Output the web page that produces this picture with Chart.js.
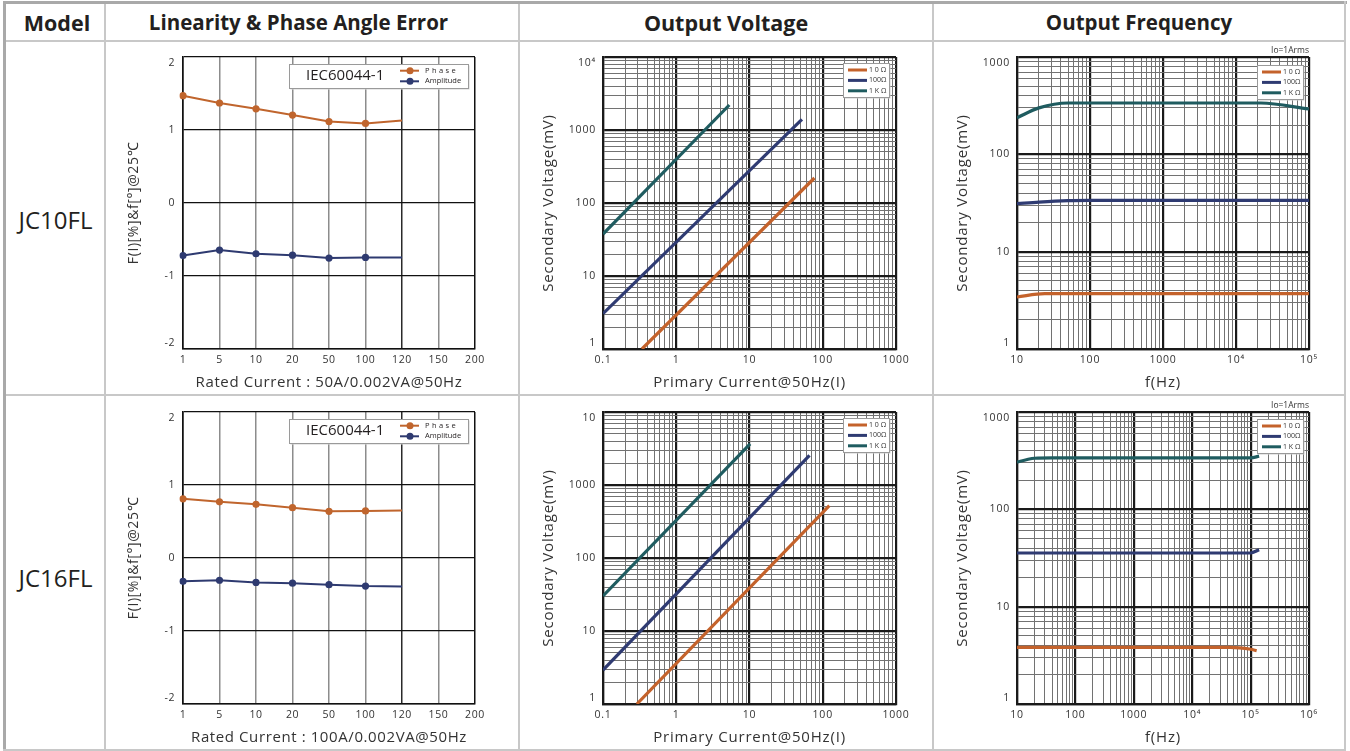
<!DOCTYPE html>
<html><head><meta charset="utf-8">
<script src="https://cdn.jsdelivr.net/npm/chart.js@4.4.1/dist/chart.umd.min.js"></script>
<style>
html,body{margin:0;padding:0;background:#fff;}
body{width:1350px;height:751px;position:relative;overflow:hidden;font-family:"Open Sans",sans-serif;}
.ln{position:absolute;background:#c8c8c8;}
.hdr{position:absolute;top:4px;height:37px;line-height:37px;font-weight:700;font-size:20.5px;color:#231f20;text-align:center;white-space:nowrap;}
.model{position:absolute;left:6px;width:99px;height:40px;line-height:40px;text-align:center;font-size:24px;color:#231f20;}
canvas{position:absolute;}
</style></head><body>
<div class="ln" style="left:3px;top:1px;width:1344px;height:3px;background:#a9a9a9"></div>
<div class="ln" style="left:3px;top:1px;width:3px;height:750px;background:#a9a9a9"></div>
<div class="ln" style="left:1344px;top:1px;width:2px;height:750px"></div>
<div class="ln" style="left:3px;top:749px;width:1343px;height:2px"></div>
<div class="ln" style="left:6px;top:40px;width:1338px;height:2px"></div>
<div class="ln" style="left:6px;top:394px;width:1338px;height:2px"></div>
<div class="ln" style="left:104px;top:4px;width:2px;height:746px"></div>
<div class="ln" style="left:518px;top:4px;width:2px;height:746px"></div>
<div class="ln" style="left:932px;top:4px;width:2px;height:746px"></div>

<div class="hdr" style="left:6px;width:102px;font-size:21.5px">Model</div>
<div class="hdr" style="left:105px;width:387px">Linearity &amp; Phase Angle Error</div>
<div class="hdr" style="left:519px;width:414px;font-size:21.5px">Output Voltage</div>
<div class="hdr" style="left:933px;width:412px">Output Frequency</div>
<div class="model" style="top:200px">JC10FL</div>
<div class="model" style="top:558px">JC16FL</div>

<canvas id="lin1"></canvas><canvas id="lin2"></canvas>
<canvas id="vol1"></canvas><canvas id="vol2"></canvas>
<canvas id="frq1"></canvas><canvas id="frq2"></canvas>

<script>
// ---------- DATA ----------
const linearityCurrents = ['1','5','10','20','50','100','120','150','200'];
const linYLabels = ['-2', '-1', '0', '1', '2'];
const jc10Phase = [1.47, 1.37, 1.29, 1.205, 1.115, 1.09, 1.13];
const jc10Amplitude = [-0.72, -0.645, -0.695, -0.715, -0.755, -0.745, -0.745];
const jc16Phase = [0.81, 0.77, 0.735, 0.69, 0.64, 0.645, 0.65];
const jc16Amplitude = [-0.32, -0.305, -0.335, -0.345, -0.365, -0.385, -0.39];

const loadLabels = ['1 0 Ω', '100Ω', '1 K Ω'];

// Output voltage: [primary current A, secondary voltage mV]
const jc10Volt10 = [[0.34, 1], [77, 220]];
const jc10Volt100 = [[0.1, 3.05], [52, 1400]];
const jc10Volt1k = [[0.1, 37.6], [5.3, 2200]];
const jc16Volt10 = [[0.29, 1], [123, 520]];
const jc16Volt100 = [[0.1, 2.92], [66, 2550]];
const jc16Volt1k = [[0.1, 30.2], [10.2, 3650]];

// Output frequency: [Hz, mV]
const jc10Freq10 = [[10, 3.42], [24, 3.7], [100, 3.7], [1e5, 3.7]];
const jc10Freq100 = [[10, 31.1], [20, 32.3], [50, 33.4], [100, 33.6], [1e5, 33.6]];
const jc10Freq1k = [[10, 238], [20, 300], [50, 337], [22000, 337], [1e5, 292]];
const jc16Freq10 = [[10, 3.82], [45000, 3.82], [1e5, 3.65], [1.27e5, 3.53]];
const jc16Freq100 = [[10, 35.6], [1e5, 35.6], [1.4e5, 38.5]];
const jc16Freq1k = [[10, 305], [15, 325], [20, 335], [40, 338], [1e5, 338], [1.4e5, 352]];

// tick labels (one per decade)
const voltXLabels = ['0.1', '1', '10', '100', '1000'];
const voltYLabelsTop = ['1', '10', '100', '1000', '10⁴'];
const voltYLabelsBottom = ['1', '10', '100', '1000', '10'];
const freqXLabelsTop = ['10', '100', '1000', '10⁴', '10⁵'];
const freqXLabelsBottom = ['10', '100', '1000', '10⁴', '10⁵', '10⁶'];
const freqYLabels = ['1', '10', '100', '1000'];

// ---------- STYLE ----------
const phaseColor = '#c0652d', ampColor = '#2e3a70';
const loadColors = ['#c4622b', '#2f3b72', '#1f5c60'];
Chart.defaults.font.family = '"Open Sans", sans-serif';
Chart.defaults.color = '#333';
const TICK_FONT = { size: 10.5 };

const PAD_T = 28, PAD_R = 26;
function place(c, a, wy, hx) {
  const left = a.L - wy, top = a.T - PAD_T;
  c.width = a.R + PAD_R - left; c.height = a.B + hx - top;
  c.style.left = left + 'px'; c.style.top = top + 'px';
}
// keep the end labels of a vertical axis inside the plot (shift half a line)
function yEdge(label, isTop, isBottom) {
  if (isTop) return ['', label];
  if (isBottom) return [label, ''];
  return label;
}

const spacing = { id: 'spacing', beforeDraw(chart, args, o) { chart.ctx.letterSpacing = (o && o.ls) || '0px'; } };

const boxLegend = {
  id: 'boxLegend',
  afterDraw(chart, args, o) {
    if (!o || !o.kind) return;
    const ctx = chart.ctx, a = chart.chartArea;
    ctx.save();
    ctx.letterSpacing = '0px';
    ctx.textBaseline = 'middle'; ctx.textAlign = 'left';
    if (o.kind === 'lin') {
      const x = a.left + 106, y = a.top + 7, w = 179, h = 24;
      ctx.fillStyle = '#d4d4d4'; ctx.fillRect(x + 1.5, y + 1.5, w, h);
      ctx.fillStyle = '#fff'; ctx.fillRect(x, y, w, h);
      ctx.strokeStyle = '#9a9a9a'; ctx.lineWidth = 1; ctx.strokeRect(x + 0.5, y + 0.5, w, h);
      ctx.fillStyle = '#231f20'; ctx.font = '15px "Open Sans"';
      ctx.fillText(o.title, a.left + 123, a.top + 19);
      chart.data.datasets.forEach((ds, i) => {
        const yy = a.top + 13.7 + i * 10.6;
        ctx.strokeStyle = ds.borderColor; ctx.lineWidth = 2;
        ctx.beginPath(); ctx.moveTo(a.left + 217, yy); ctx.lineTo(a.left + 236, yy); ctx.stroke();
        ctx.fillStyle = ds.borderColor; ctx.beginPath(); ctx.arc(a.left + 227, yy, 3.5, 0, Math.PI * 2); ctx.fill();
        ctx.fillStyle = '#231f20'; ctx.font = '7.5px "Open Sans"';
        ctx.letterSpacing = i === 0 ? '2.4px' : '0px';
        ctx.fillText(ds.label, a.left + 242, yy);
      });
    } else {
      const x = a.left + 240, y = a.top + o.dy, w = 46, h = 34;
      ctx.fillStyle = '#d0d0d0'; ctx.fillRect(x + 1.5, y + 1.5, w, h);
      ctx.fillStyle = '#fff'; ctx.fillRect(x, y, w, h);
      ctx.strokeStyle = '#9a9a9a'; ctx.lineWidth = 1; ctx.strokeRect(x + 0.5, y + 0.5, w, h);
      chart.data.datasets.forEach((ds, i) => {
        const yy = y + 7 + i * 10.4;
        ctx.strokeStyle = ds.borderColor; ctx.lineWidth = 3;
        ctx.beginPath(); ctx.moveTo(a.left + 245, yy); ctx.lineTo(a.left + 264, yy); ctx.stroke();
        ctx.fillStyle = '#333'; ctx.font = '7px "Open Sans"';
        ctx.fillText(ds.label, a.left + 266, yy);
      });
    }
    if (o.note) {
      ctx.letterSpacing = '0px';
      ctx.fillStyle = '#333'; ctx.font = '8.5px "Open Sans"'; ctx.textAlign = 'right';
      ctx.fillText(o.note, a.right, a.top - 6.5);
    }
    ctx.restore();
  }
};

const common = (legendOpts, ls) => ({
  responsive: false, animation: false, events: [],
  layout: { padding: { top: PAD_T, right: PAD_R, left: 0, bottom: 0 }, autoPadding: false },
  plugins: { legend: { display: false }, tooltip: { enabled: false }, boxLegend: legendOpts, spacing: { ls } }
});

function linChart(id, area, phase, amp, xTitle) {
  const c = document.getElementById(id);
  place(c, area, 76, 43);
  new Chart(c, {
    type: 'line',
    plugins: [spacing, boxLegend],
    data: {
      labels: linearityCurrents,
      datasets: [
        { label: 'Phase', data: phase, borderColor: phaseColor, backgroundColor: phaseColor, borderWidth: 2,
          pointRadius: (ctx) => ctx.dataIndex < 6 ? 3.6 : 0, pointBorderWidth: 0, pointHoverRadius: 0, tension: 0 },
        { label: 'Amplitude', data: amp, borderColor: ampColor, backgroundColor: ampColor, borderWidth: 2,
          pointRadius: (ctx) => ctx.dataIndex < 6 ? 3.6 : 0, pointBorderWidth: 0, pointHoverRadius: 0, tension: 0 }
      ]
    },
    options: Object.assign(common({ kind: 'lin', title: 'IEC60044-1' }, '0.6px'), {
      scales: {
        x: {
          type: 'category', offset: false,
          afterFit: (s) => { s.height = 43; },
          grid: { drawTicks: false, lineWidth: 1.5,
            color: (ctx) => (ctx.index === 0 || ctx.index === 8) ? '#111' : (ctx.index === 6 ? '#2a2a2a' : '#8c8c8c') },
          border: { color: '#111', width: 1.5 },
          ticks: { padding: 5, font: TICK_FONT, color: '#333', autoSkip: false, maxRotation: 0 },
          title: { display: true, text: xTitle, font: { size: 15 }, color: '#333', padding: { top: 0, bottom: 0 } }
        },
        y: {
          min: -2, max: 2,
          afterFit: (s) => { s.width = 76; },
          grid: { drawTicks: false, lineWidth: 1.3, color: '#111' },
          border: { color: '#111', width: 1.5 },
          ticks: { stepSize: 1, padding: 8, font: TICK_FONT, color: '#333',
            callback: (v) => yEdge(linYLabels[Math.round(v) + 2], v === 2, v === -2) },
          title: { display: true, text: 'F(I)[%]&f[°]@25℃', font: { size: 14 }, color: '#333', padding: { top: 19, bottom: 0 } }
        }
      }
    })
  });
}

const isMajor = (v) => Math.abs(Math.log10(v) - Math.round(Math.log10(v))) < 1e-9;
function logTicks(min, max) {
  const t = [];
  for (let e = Math.round(Math.log10(min)); e < Math.round(Math.log10(max)); e++)
    for (let k = 1; k < 10; k++) t.push({ value: k * Math.pow(10, e) });
  t.push({ value: max });
  return t;
}
function logAxis(axis, min, max, labels, title, size) {
  return {
    type: 'logarithmic', min, max,
    afterBuildTicks: (s) => { s.ticks = logTicks(min, max); },
    afterFit: (s) => { if (axis === 'x') s.height = size; else s.width = size; },
    grid: { drawTicks: false,
      color: (ctx) => ctx.tick && isMajor(ctx.tick.value) ? '#1a1a1a' : '#727272',
      lineWidth: (ctx) => ctx.tick && isMajor(ctx.tick.value) ? 2.2 : 1 },
    border: { color: '#1a1a1a', width: 2.2 },
    ticks: {
      autoSkip: false, maxRotation: 0, minRotation: 0, padding: axis === 'x' ? 5 : 7, font: TICK_FONT, color: '#333',
      callback: (v, i, ticks) => {
        const val = ticks[i].value;
        if (!isMajor(val)) return '';
        const lab = labels[Math.round(Math.log10(val) - Math.log10(min))];
        return axis === 'y' ? yEdge(lab, i === ticks.length - 1, i === 0) : lab;
      }
    },
    title: { display: true, text: title, font: { size: 15 }, color: '#333',
      padding: axis === 'x' ? { top: 0, bottom: 0 } : { top: 19, bottom: 0 } }
  };
}
function logChart(id, area, s) {
  const c = document.getElementById(id);
  place(c, area, 82, 43);
  new Chart(c, {
    type: 'line',
    plugins: [spacing, boxLegend],
    data: {
      datasets: s.series.map((arr, i) => ({
        label: loadLabels[i], data: arr.map(p => ({ x: p[0], y: p[1] })),
        borderColor: loadColors[i], backgroundColor: loadColors[i], borderWidth: 3.2, pointRadius: 0, pointHoverRadius: 0,
        fill: false, cubicInterpolationMode: s.smooth ? 'monotone' : 'default', tension: 0
      }))
    },
    options: Object.assign(common({ kind: 'load', dy: s.legendDy, note: s.note }, '0.8px'), {
      scales: {
        x: logAxis('x', s.xMin, s.xMax, s.xLabels, s.xTitle, 43),
        y: logAxis('y', s.yMin, s.yMax, s.yLabels, 'Secondary Voltage(mV)', 82)
      }
    })
  });
}

// ---------- BUILD ----------
const rowTop = { T: 57, B: 349 }, rowBot = { T: 412, B: 704 };
linChart('lin1', { L: 183, R: 475, ...rowTop }, jc10Phase, jc10Amplitude, 'Rated Current : 50A/0.002VA@50Hz');
linChart('lin2', { L: 183, R: 475, ...rowBot }, jc16Phase, jc16Amplitude, 'Rated Current : 100A/0.002VA@50Hz');

logChart('vol1', { L: 603, R: 896, ...rowTop }, { series: [jc10Volt10, jc10Volt100, jc10Volt1k],
  xMin: 0.1, xMax: 1000, yMin: 1, yMax: 10000, xLabels: voltXLabels, yLabels: voltYLabelsTop,
  xTitle: 'Primary Current@50Hz(I)', legendDy: 6 });
logChart('vol2', { L: 603, R: 896, ...rowBot }, { series: [jc16Volt10, jc16Volt100, jc16Volt1k],
  xMin: 0.1, xMax: 1000, yMin: 1, yMax: 10000, xLabels: voltXLabels, yLabels: voltYLabelsBottom,
  xTitle: 'Primary Current@50Hz(I)', legendDy: 6 });

logChart('frq1', { L: 1017, R: 1309, ...rowTop }, { series: [jc10Freq10, jc10Freq100, jc10Freq1k],
  xMin: 10, xMax: 1e5, yMin: 1, yMax: 1000, xLabels: freqXLabelsTop, yLabels: freqYLabels,
  xTitle: 'f(Hz)', legendDy: 8, note: 'Io=1Arms', smooth: true });
logChart('frq2', { L: 1017, R: 1309, ...rowBot }, { series: [jc16Freq10, jc16Freq100, jc16Freq1k],
  xMin: 10, xMax: 1e6, yMin: 1, yMax: 1000, xLabels: freqXLabelsBottom, yLabels: freqYLabels,
  xTitle: 'f(Hz)', legendDy: 7, note: 'Io=1Arms', smooth: true });
</script>
</body></html>
